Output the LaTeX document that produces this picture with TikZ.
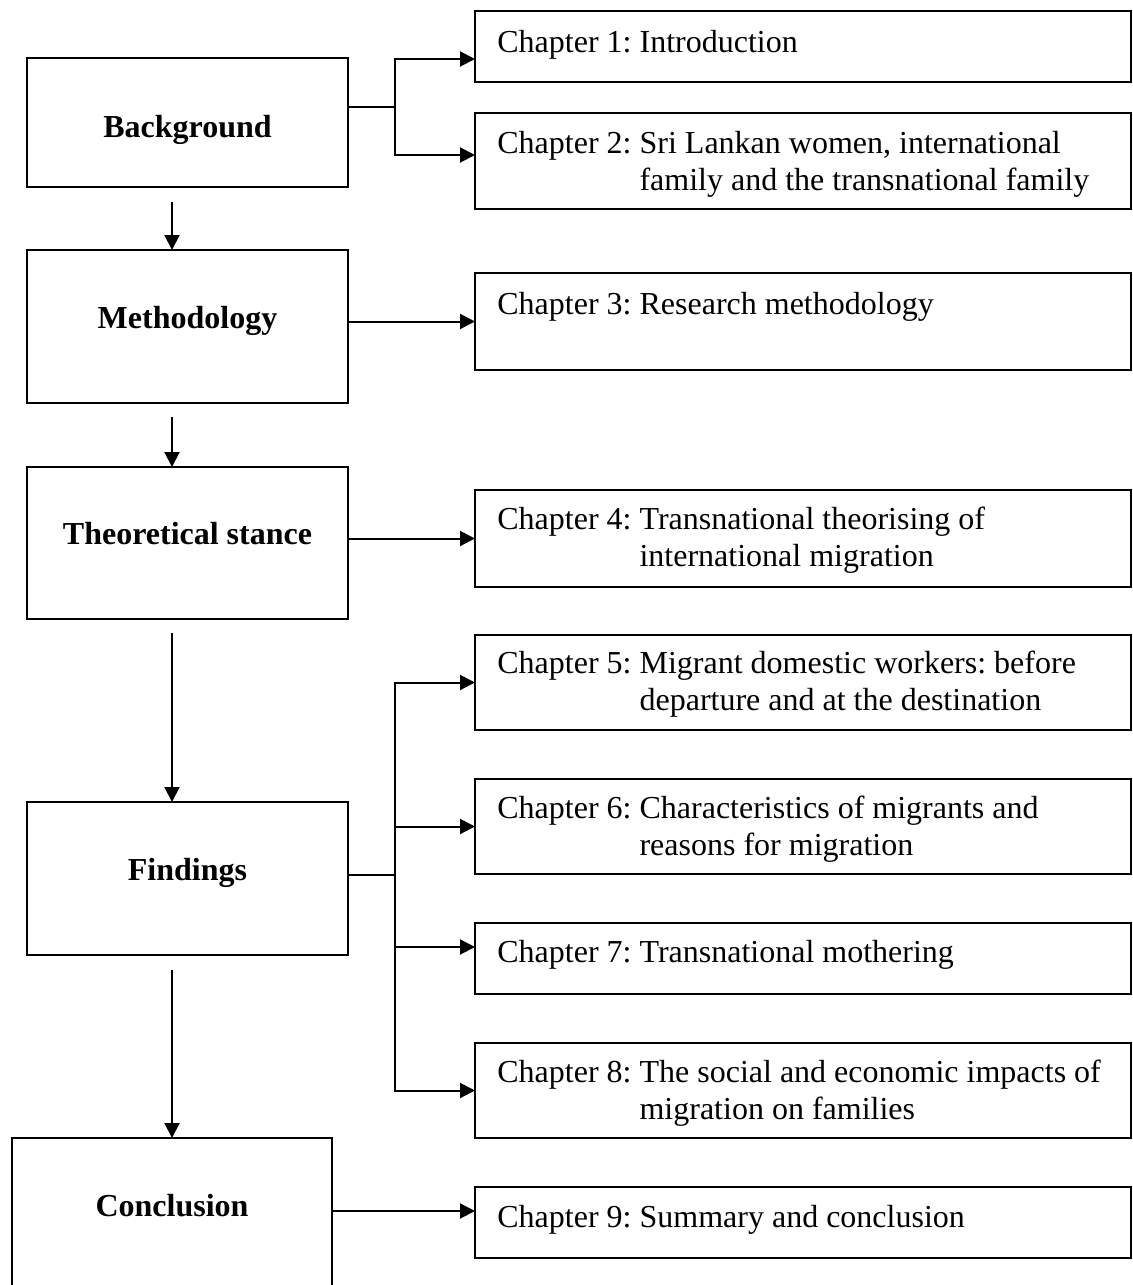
\documentclass[tikz,border=0pt]{standalone}
\usepackage{fontspec}
\setmainfont{Liberation Serif}
\usetikzlibrary{arrows.meta,calc}
\frenchspacing
% chapter label with the continuation lines hung under the title
\newcommand{\chaptxt}[2]{Chapter #1: \begin{tabular}[t]{@{}l@{}}#2\end{tabular}}
\begin{document}
\begin{tikzpicture}[x=0.5pt,y=-0.5pt,
  box/.style={draw, line width=1pt, rectangle, inner sep=0pt, outer sep=0pt},
  partbox/.style={box, minimum width=160.5pt},
  chapbox/.style={box, minimum width=328pt},
  lbl/.style={font=\fontsize{16}{18.5}\selectfont\bfseries, inner sep=0pt, anchor=base},
  chtext/.style={font=\fontsize{16}{18.5}\selectfont, inner sep=0pt, anchor=base west},
  link/.style={line width=1pt},
  arr/.style={line width=1pt, -{Triangle[length=7.5pt,width=7.5pt]}}]
\useasboundingbox (0,0) rectangle (1133,1285);
\clip (0,0) rectangle (1133,1285);

% ---- parts (left column) ----
\node[partbox, minimum height=64.5pt] (bg)    at (187.5,122.5) {};
\node[partbox, minimum height=76.5pt] (meth)  at (187.5,326.5) {};
\node[partbox, minimum height=76pt]   (theo)  at (187.5,543)   {};
\node[partbox, minimum height=76.5pt] (find)  at (187.5,878.5) {};
\node[box, minimum width=160pt, minimum height=76pt] (concl) at (172,1214) {};

\node[lbl] (bgt)    at (187.5,137)  {Background};
\node[lbl] (metht)  at (187.5,328)  {Methodology};
\node[lbl] (theot)  at (187.5,544)  {Theoretical stance};
\node[lbl] (findt)  at (187.5,880)  {Findings};
\node[lbl] (conclt) at (172,1216)   {Conclusion};

% ---- chapters (right column) ----
\node[chapbox, minimum height=35.5pt] (c1) at (803,46.5)   {};
\node[chapbox, minimum height=48pt]   (c2) at (803,161)    {};
\node[chapbox, minimum height=48.5pt] (c3) at (803,321.5)  {};
\node[chapbox, minimum height=48.5pt] (c4) at (803,538.5)  {};
\node[chapbox, minimum height=47.5pt] (c5) at (803,682.5)  {};
\node[chapbox, minimum height=47.5pt] (c6) at (803,826.5)  {};
\node[chapbox, minimum height=35.5pt] (c7) at (803,958.5)  {};
\node[chapbox, minimum height=47.5pt] (c8) at (803,1090.5) {};
\node[chapbox, minimum height=35.5pt] (c9) at (803,1222.5) {};

\node[chtext] (c1t) at ($(c1.north west)+(22,41)$) {Chapter 1: Introduction};
\node[chtext] (c2t) at ($(c2.north west)+(22,40)$) {\chaptxt{2}{Sri Lankan women, international\\family and the transnational family}};
\node[chtext] (c3t) at ($(c3.north west)+(22,41)$) {Chapter 3: Research methodology};
\node[chtext] (c4t) at ($(c4.north west)+(22,39)$) {\chaptxt{4}{Transnational theorising of\\international migration}};
\node[chtext] (c5t) at ($(c5.north west)+(22,38)$) {\chaptxt{5}{Migrant domestic workers: before\\departure and at the destination}};
\node[chtext] (c6t) at ($(c6.north west)+(22,39)$) {\chaptxt{6}{Characteristics of migrants and\\reasons for migration}};
\node[chtext] (c7t) at ($(c7.north west)+(22,39)$) {Chapter 7: Transnational mothering};
\node[chtext] (c8t) at ($(c8.north west)+(22,39)$) {\chaptxt{8}{The social and economic impacts of\\migration on families}};
\node[chtext] (c9t) at ($(c9.north west)+(22,40)$) {Chapter 9: Summary and conclusion};

% ---- flow down the left column ----
\coordinate (d1) at (172,202);
\coordinate (d2) at (172,417);
\coordinate (d3) at (172,633);
\coordinate (d4) at (172,970);
\draw[arr] (d1) -- (d1 |- meth.north);
\draw[arr] (d2) -- (d2 |- theo.north);
\draw[arr] (d3) -- (d3 |- find.north);
\draw[arr] (d4) -- (d4 |- concl.north);

% ---- links from parts to chapters ----
\coordinate (jb)  at (395,107);
\coordinate (jb1) at (395,59);
\coordinate (jb2) at (395,155);
\draw[link] (bg.east |- jb) -- (jb);
\draw[arr] (jb) |- (jb1 -| c1.west);
\draw[arr] (jb) |- (jb2 -| c2.west);

\draw[arr] (meth.east |- c3.west) -- (c3.west);
\draw[arr] (theo.east |- c4.west) -- (c4.west);

\coordinate (jf) at (395,875);
\coordinate (f7) at (395,947);
\draw[link] (find.east |- jf) -- (jf);
\draw[arr] (jf) |- (c5.west);
\draw[arr] (jf) |- (c6.west);
\draw[arr] (jf) -- (f7) -- (f7 -| c7.west);
\draw[arr] (jf) |- (c8.west);

\coordinate (k9) at (395,1211);
\draw[arr] (concl.east |- k9) -- (k9 -| c9.west);
\end{tikzpicture}
\end{document}
